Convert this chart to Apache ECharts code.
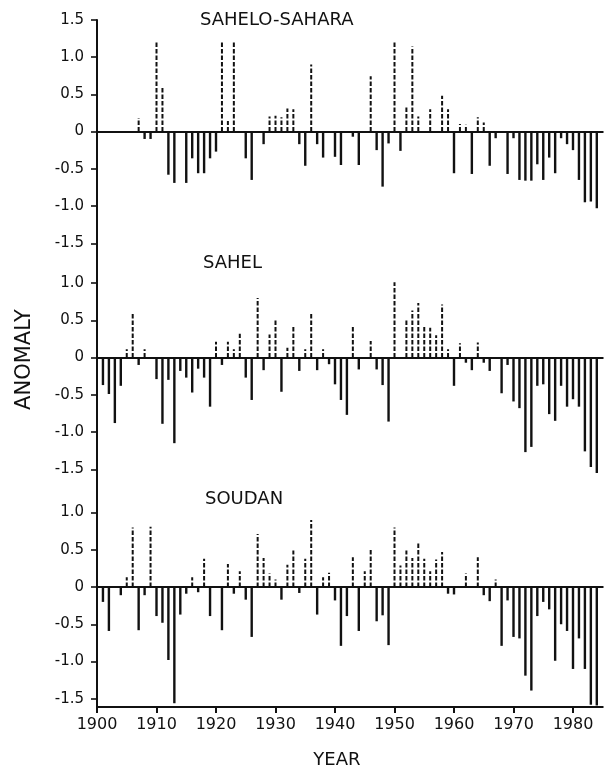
<!DOCTYPE html>
<html>
<head>
<meta charset="utf-8">
<script src="https://cdn.jsdelivr.net/npm/echarts@6/dist/echarts.min.js"></script>
<style>
  html, body { margin: 0; padding: 0; background: #ffffff; }
  #chart { width: 607px; height: 774px; }
</style>
</head>
<body>
<div id="chart"></div>
<script>
// Rainfall anomaly series, one value per year (null = no bar drawn)
const years = [
  1900,1901,1902,1903,1904,1905,1906,1907,1908,1909,
  1910,1911,1912,1913,1914,1915,1916,1917,1918,1919,
  1920,1921,1922,1923,1924,1925,1926,1927,1928,1929,
  1930,1931,1932,1933,1934,1935,1936,1937,1938,1939,
  1940,1941,1942,1943,1944,1945,1946,1947,1948,1949,
  1950,1951,1952,1953,1954,1955,1956,1957,1958,1959,
  1960,1961,1962,1963,1964,1965,1966,1967,1968,1969,
  1970,1971,1972,1973,1974,1975,1976,1977,1978,1979,
  1980,1981,1982,1983,1984
];

const saheloSahara = [
  null, null, null, null, null, null, null, 0.18, -0.10, -0.10,
  1.20, 0.59, -0.58, -0.69, null, -0.69, -0.36, -0.56, -0.56, -0.36,
  -0.27, 1.20, 0.14, 1.20, null, -0.36, -0.65, null, -0.17, 0.20,
  0.21, 0.19, 0.31, 0.30, -0.17, -0.46, 0.90, -0.17, -0.35, null,
  -0.34, -0.45, null, -0.07, -0.45, null, 0.74, -0.25, -0.74, -0.16,
  1.22, -0.26, 0.34, 1.14, 0.20, null, 0.30, null, 0.48, 0.30,
  -0.56, 0.10, 0.09, -0.57, 0.19, 0.12, -0.46, -0.09, null, -0.57,
  -0.09, -0.65, -0.66, -0.66, -0.44, -0.65, -0.35, -0.56, -0.09, -0.17,
  -0.25, -0.65, -0.95, -0.94, -1.03
];

const sahel = [
  null, -0.37, -0.49, -0.88, -0.38, 0.11, 0.59, -0.10, 0.11, null,
  -0.29, -0.89, -0.30, -1.15, -0.18, -0.27, -0.47, -0.15, -0.27, -0.66,
  0.21, -0.10, 0.21, 0.11, 0.32, -0.27, -0.57, 0.80, -0.17, 0.31,
  0.52, -0.46, 0.13, 0.43, -0.18, 0.11, 0.61, -0.17, 0.11, -0.09,
  -0.36, -0.57, -0.77, 0.42, -0.16, null, 0.22, -0.16, -0.37, -0.86,
  1.01, null, 0.50, 0.63, 0.73, 0.42, 0.40, 0.30, 0.71, 0.11,
  -0.38, 0.19, -0.07, -0.17, 0.20, -0.07, -0.18, null, -0.48, -0.10,
  -0.59, -0.68, -1.27, -1.20, -0.38, -0.36, -0.76, -0.85, -0.38, -0.66,
  -0.56, -0.66, -1.26, -1.47, -1.55
];

const soudan = [
  null, -0.20, -0.59, null, -0.11, 0.13, 0.80, -0.58, -0.11, 0.81,
  -0.39, -0.48, -0.98, -1.56, -0.37, -0.09, 0.13, -0.07, 0.38, -0.39,
  null, -0.58, 0.31, -0.09, 0.21, -0.17, -0.67, 0.71, 0.39, 0.18,
  0.10, -0.17, 0.30, 0.49, -0.08, 0.38, 0.90, -0.37, 0.13, 0.19,
  -0.18, -0.79, -0.39, 0.40, -0.59, 0.21, 0.50, -0.46, -0.38, -0.78,
  0.80, 0.29, 0.49, 0.39, 0.59, 0.38, 0.21, 0.37, 0.47, -0.09,
  -0.10, null, 0.18, null, 0.40, -0.11, -0.19, 0.10, -0.79, -0.18,
  -0.67, -0.69, -1.19, -1.39, -0.39, -0.20, -0.30, -0.99, -0.50, -0.59,
  -1.10, -0.69, -1.10, -1.58, -1.59
];

const regionNames = ['SAHELO-SAHARA', 'SAHEL', 'SOUDAN'];
const regionSeries = [saheloSahara, sahel, soudan];
const regionYMax = [1.5, 1.0, 1.0];
const yMin = -1.5;
const tickStep = 0.5;
const yearMin = 1900;
const yearMax = 1985;
const yearStep = 10;

// ---- layout (pixels) ----
const FONT = 'DejaVu Sans';
const INK = '#111111';
const plotLeft = 97;
const plotWidth = 505.75;
const pxPerUnit = 74.5;
const zeroY = [131.5, 357.5, 587];
const frameTop = 20;
const frameBottom = 721;
const titleLeft = [200, 203, 205];
const titleTop = [11, 254, 490];

const grids = [];
const xAxes = [];
const yAxes = [];
const series = [];
const titles = [];

// One vertical stem per year: dashed above zero, solid below
function stem(params, api) {
  const v = api.value(1);
  const yr = api.value(0);
  const base = api.coord([yr, 0]);
  const tip = api.coord([yr, v]);
  return {
    type: 'line',
    shape: { x1: base[0], y1: base[1], x2: tip[0], y2: tip[1] },
    style: {
      stroke: INK,
      lineWidth: v > 0 ? 2 : 2.4,
      lineDash: v > 0 ? [4.5, 2] : null,
      lineCap: 'butt'
    }
  };
}

function fmtTick(v) {
  if (Math.abs(v) < 1e-9) return '0';
  return (v < 0 ? '-' : '') + Math.abs(v).toFixed(1);
}

regionSeries.forEach((vals, i) => {
  const yMax = regionYMax[i];
  const top = zeroY[i] - yMax * pxPerUnit;
  const height = (yMax - yMin) * pxPerUnit;
  grids.push({ left: plotLeft, top: top, width: plotWidth, height: height });
  xAxes.push({
    gridIndex: i, type: 'value', min: yearMin, max: yearMax,
    axisLine: { show: true, onZero: true, lineStyle: { color: INK, width: 2 } },
    axisTick: { show: false }, axisLabel: { show: false }, splitLine: { show: false }
  });
  yAxes.push({
    gridIndex: i, type: 'value', min: yMin, max: yMax, interval: tickStep,
    axisLine: { show: false },
    axisTick: { show: true, length: 6, lineStyle: { color: INK, width: 1.6 } },
    axisLabel: { show: true, margin: 13, color: INK, fontSize: 15, fontFamily: FONT, formatter: fmtTick },
    splitLine: { show: false }
  });
  series.push({
    type: 'custom', xAxisIndex: i, yAxisIndex: i, clip: false,
    renderItem: stem,
    data: years.map((y, k) => [y, vals[k]]).filter(d => d[1] !== null)
  });
  titles.push({
    text: regionNames[i], left: titleLeft[i], top: titleTop[i], padding: 0,
    textStyle: { fontSize: 18, fontWeight: 'normal', fontFamily: FONT, color: INK }
  });
});

// Outer frame: long left axis and the year axis at the bottom
grids.push({ left: plotLeft, top: frameTop, width: plotWidth, height: frameBottom - frameTop });
xAxes.push({
  gridIndex: 3, type: 'value', min: yearMin, max: yearMax, interval: yearStep, position: 'bottom',
  axisLine: { show: true, onZero: false, lineStyle: { color: INK, width: 2 } },
  axisTick: { show: true, length: 6, lineStyle: { color: INK, width: 2 } },
  axisLabel: {
    show: true, margin: 10, color: INK, fontSize: 16, fontFamily: FONT,
    showMaxLabel: false, formatter: v => (v % yearStep === 0 ? String(v) : '')
  },
  splitLine: { show: false },
  name: 'YEAR', nameLocation: 'middle', nameGap: 44,
  nameTextStyle: { fontSize: 18, fontFamily: FONT, color: INK, padding: [0, 26, 0, 0] }
});
yAxes.push({
  gridIndex: 3, type: 'value', min: 0, max: 1,
  axisLine: { show: true, onZero: false, lineStyle: { color: INK, width: 2 } },
  axisTick: { show: false }, axisLabel: { show: false }, splitLine: { show: false },
  name: 'ANOMALY', nameLocation: 'middle', nameGap: 62, nameRotate: 90,
  nameTextStyle: { fontSize: 21, fontFamily: FONT, color: INK, padding: [0, 0, 0, 8] }
});

const chart = echarts.init(document.getElementById('chart'), null, { renderer: 'canvas' });
chart.setOption({
  backgroundColor: '#ffffff',
  animation: false,
  title: titles,
  grid: grids,
  xAxis: xAxes,
  yAxis: yAxes,
  series: series
});
</script>
</body>
</html>
